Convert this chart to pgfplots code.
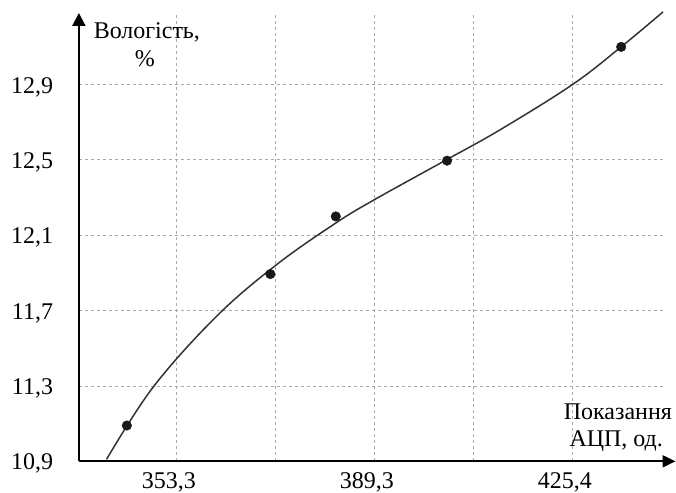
\documentclass[border=0pt]{standalone}
\usepackage{pgfplots}
\pgfplotsset{compat=1.18}
\usepackage{fontspec}
\setmainfont{Liberation Serif}
\usetikzlibrary{arrows.meta}
\definecolor{curvec}{HTML}{333333}
\definecolor{gridc}{HTML}{AAAAAA}
\begin{document}
\begin{tikzpicture}[font=\fontsize{24bp}{28bp}\selectfont]
\begin{axis}[
  name=ax,
  scale only axis,
  width=585.5bp, height=449bp,
  xmin=335.48, xmax=441.8,
  ymin=10.9, ymax=13.28,
  axis x line=bottom, axis y line=left,
  axis line style={line width=2bp},
  x axis line style={-{Triangle[width=12bp,length=13bp]}, shorten >=-12bp},
  y axis line style={-{Triangle[width=13bp,length=13bp]}},
  major tick length=0pt, minor tick length=0pt,
  xtick={353.3,389.3,425.3},
  minor xtick={371.3,407.3},
  xticklabels={{353,3},{389,3},{425,4}},
  ytick={10.9,11.3,11.7,12.1,12.5,12.9},
  yticklabels={{10,9},{11,3},{11,7},{12,1},{12,5},{12,9}},
  xmajorgrids, xminorgrids, ymajorgrids,
  major grid style={gridc, line width=0.9bp, dash pattern=on 3bp off 3bp},
  minor grid style={gridc, line width=0.9bp, dash pattern=on 3bp off 3bp},
  tick label style={font=\fontsize{24bp}{28bp}\selectfont},
  xticklabel style={anchor=north, inner sep=0pt, yshift=-11bp, xshift=-8bp},
  yticklabel style={anchor=base east, inner sep=0pt, xshift=-25.7bp, yshift=-8.5bp},
  clip=false,
]
\addplot[curvec, line width=1.5bp, smooth, tension=0.6, no markers] coordinates {
(340.52,10.911) (348.99,11.294) (360.52,11.670) (371.43,11.944)
(382.2,12.165) (389.17,12.288) (401.72,12.491) (412.03,12.659)
(425.24,12.90) (433.96,13.097) (441.72,13.286)
};
\addplot[only marks, mark=*, mark size=4.8bp, color=black!90, fill=black!90] coordinates {
(344.2,11.09) (370.3,11.894) (382.2,12.20) (402.44,12.496) (434.1,13.10)
};
\node[anchor=base] at (axis cs:347.84,13.146) {Вологість,};
\node[anchor=base] at (axis cs:347.5,12.994) {\%};
\node[anchor=base] at (axis cs:433.5,11.122) {Показання};
\node[anchor=base] at (axis cs:433.2,10.979) {АЦП, од.};
\end{axis}
\path[use as bounding box] ([shift={(-79bp,-29bp)}]ax.south west) rectangle ([shift={(12.5bp,13bp)}]ax.north east);
\end{tikzpicture}
\end{document}
